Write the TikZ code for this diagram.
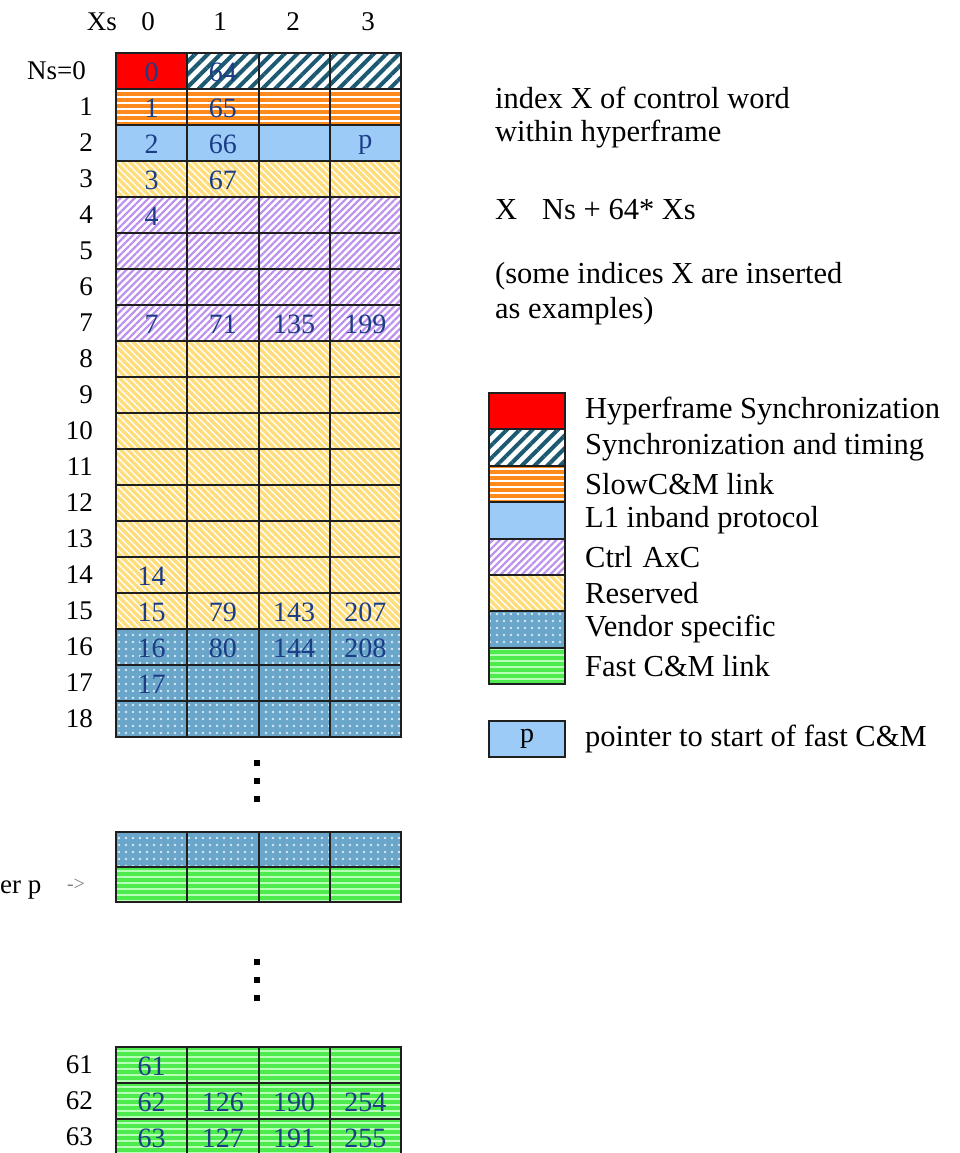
\documentclass[tikz,border=0pt]{standalone}
\usepackage{fontspec}
\setmainfont{Liberation Serif}
\usetikzlibrary{patterns.meta}
\definecolor{stc}{HTML}{1B5A72}
\definecolor{orgc}{HTML}{FF8A1C}
\definecolor{lbc}{HTML}{9CCBF7}
\definecolor{purc}{HTML}{BE90EE}
\definecolor{yelc}{HTML}{FFDD7A}
\definecolor{venc}{HTML}{6AA6CA}
\definecolor{grc}{HTML}{4DEB4D}
\definecolor{numc}{HTML}{1C3C86}
\definecolor{dotc}{HTML}{D4E8F4}
\definecolor{fastl}{HTML}{B8FFB8}
\tikzset{
  hsync/.style={fill=red},
  stime/.style={preaction={fill=white}, pattern={Lines[angle=45,distance=9pt,line width=4pt]}, pattern color=stc},
  slow/.style={preaction={fill=orgc}, pattern={Lines[angle=0,distance=6pt,line width=2pt]}, pattern color=white},
  lone/.style={fill=lbc},
  ctrl/.style={preaction={fill=white}, pattern={Lines[angle=45,distance=5pt,line width=2.2pt]}, pattern color=purc},
  resv/.style={preaction={fill=yelc}, pattern={Lines[angle=-45,distance=5pt,line width=1.4pt]}, pattern color=white},
  vend/.style={preaction={fill=venc}, pattern={Dots[distance=7pt,radius=1.4pt]}, pattern color=dotc},
  fast/.style={preaction={fill=grc}, pattern={Lines[angle=0,distance=6pt,line width=1.6pt]}, pattern color=fastl},
  cell/.style={draw=none, minimum width=71.25pt, minimum height=36pt, inner sep=0pt, outer sep=0pt, anchor=north west},
  gridline/.style={draw=black!88, line width=2pt},
  num/.style={text=numc, font=\fontsize{28}{30}\selectfont, inner sep=0pt, anchor=center, yshift=-1.5pt},
  lab/.style={font=\fontsize{27}{30}\selectfont, inner sep=0pt, anchor=east},
  txt/.style={font=\fontsize{30.5}{36}\selectfont, inner sep=0pt, anchor=west},
  lgbox/.style={draw=none, minimum width=76pt, minimum height=36.4pt, inner sep=0pt, outer sep=0pt, anchor=north west},
}
\begin{document}
\begin{tikzpicture}[x=1pt,y=-1pt]
\useasboundingbox (0,0) rectangle (959,1153);
\clip (0,0) rectangle (959,1153);
\fill[white] (0,0) rectangle (959,1153);
% header
\node[lab, anchor=center] (xs) at (102,22) {Xs};
\foreach \c/\x in {0/148,1/220,2/293,3/368}
  \node[lab, anchor=center] (h\c) at (\x,22) {\c};
% main grid
\node[cell, hsync] (c-0-0) at (116,53) {};
\foreach \c in {1,2,3}
  \node[cell, stime] (c-0-\c) at ({116+71.25*\c},53) {};
\foreach \r/\s in {1/slow,2/lone,3/resv,4/ctrl,5/ctrl,6/ctrl,7/ctrl,8/resv,9/resv,10/resv,11/resv,12/resv,13/resv,14/resv,15/resv,16/vend,17/vend,18/vend}
  \foreach \c in {0,1,2,3}
    \node[cell, \s] (c-\r-\c) at ({116+71.25*\c},{53+36*\r}) {};
% pointer section
\foreach \c in {0,1,2,3} {
  \node[cell, vend, minimum height=35pt] (s-0-\c) at ({116+71.25*\c},832) {};
  \node[cell, fast, minimum height=35pt] (s-1-\c) at ({116+71.25*\c},867) {};
}
% bottom rows
\foreach \r/\y in {61/1047,62/1083,63/1119} {
  \foreach \c in {0,1,2,3}
    \node[cell, fast] (c-\r-\c) at ({116+71.25*\c},\y) {};
  \node[lab] (r\r) at (93,{\y+18}) {\r};
}
% grid lines on top of fills
\foreach \r in {0,...,18,61,62,63}
  \foreach \c in {0,1,2,3}
    \draw[gridline] (c-\r-\c.north west) rectangle (c-\r-\c.south east);
\foreach \r in {0,1}
  \foreach \c in {0,1,2,3}
    \draw[gridline] (s-\r-\c.north west) rectangle (s-\r-\c.south east);
% row labels
\node[lab] (r0) at (86,71) {Ns=0};
\foreach \r in {1,...,18}
  \node[lab] (r\r) at (93,{71+36*\r}) {\r};
% numbers
\foreach \r/\c/\t in {0/0/0,0/1/64,1/0/1,1/1/65,2/0/2,2/1/66,2/3/p,3/0/3,3/1/67,4/0/4,7/0/7,7/1/71,7/2/135,7/3/199,14/0/14,15/0/15,15/1/79,15/2/143,15/3/207,16/0/16,16/1/80,16/2/144,16/3/208,17/0/17,61/0/61,62/0/62,62/1/126,62/2/190,62/3/254,63/0/63,63/1/127,63/2/191,63/3/255}
  \node[num] (n-\r-\c) at (c-\r-\c.center) {\t};
% dots
\foreach \y in {763,781,799,962,980,998}
  \fill[black] (254,{\y-3}) rectangle (260,{\y+3});
% pointer label
\node[lab, anchor=base west] (ptr) at (0,893) {er p};
\node[font=\fontsize{20}{22}\selectfont, text=black!50, inner sep=0pt] (ptrarrow) at (76,885) {->};
% description
\node[txt] (d1) at (495,98) {index X of control word};
\node[txt] (d2) at (495,134) {within hyperframe};
\node[txt] (d3) at (495,210) {X\hspace{25pt}Ns + 64* Xs};
\node[txt] (d4) at (495,276) {(some indices X are inserted};
\node[txt] (d5) at (495,311) {as examples)};
% legend
\foreach \i/\s/\t in {0/hsync/Hyperframe Synchronization,1/stime/Synchronization and timing,2/slow/SlowC\&M link,3/lone/L1 inband protocol,4/ctrl/Ctrl\hspace{10pt}AxC,5/resv/Reserved,6/vend/Vendor specific,7/fast/Fast C\&M link} {
  \node[lgbox, \s] (lg\i) at (489,{393+36.4*\i}) {};
  \draw[gridline] (lg\i.north west) rectangle (lg\i.south east);
  \node[txt] (lt\i) at (585,{411+36.4*\i}) {\t};
}
\node[lgbox, lone, font=\fontsize{28}{30}\selectfont] (lgp) at (489,721) {p};
\draw[gridline] (lgp.north west) rectangle (lgp.south east);
\node[txt] (ltp) at (585,739) {pointer to start of fast C\&M};
\end{tikzpicture}
\end{document}
